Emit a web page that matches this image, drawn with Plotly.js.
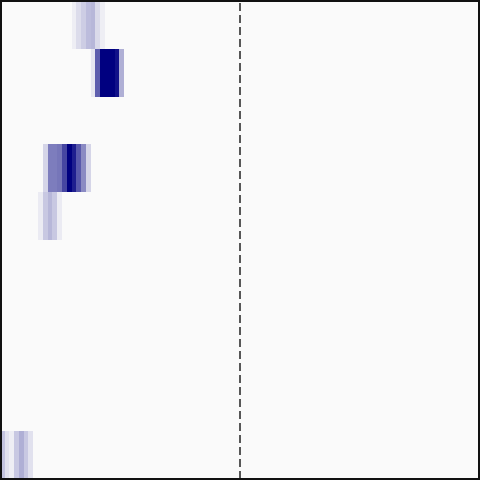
<!DOCTYPE html>
<html>
<head>
<meta charset="utf-8">
<script src="https://cdn.plot.ly/plotly-3.0.1.min.js"></script>
<style>html,body{margin:0;padding:0;background:#fff;}#chart{width:480px;height:480px;}</style>
</head>
<body>
<div id="chart"></div>
<script>
// 10 rows x 100 columns; only non-zero runs listed
var nRows = 10;
var nCols = 100;
var row0Start = 15, row0Values = [0.05, 0.12, 0.18, 0.25, 0.27, 0.13, 0.05];
var row1Start = 19, row1Values = [0.07, 0.62, 1.0, 1.0, 1.0, 0.93, 0.3];
var row3Start = 9,  row3Values = [0.15, 0.5, 0.5, 0.53, 0.72, 1.0, 0.88, 0.65, 0.45, 0.15];
var row4Start = 8,  row4Values = [0.06, 0.2, 0.27, 0.2, 0.06];
var row9Start = 0,  row9Values = [0.22, 0.1, 0.05, 0.2, 0.3, 0.2, 0.1];
var markerX = 50;

var runs = [[0,row0Start,row0Values],[1,row1Start,row1Values],[3,row3Start,row3Values],[4,row4Start,row4Values],[9,row9Start,row9Values]];
var z = [];
for (var r = 0; r < nRows; r++) { var row = []; for (var c = 0; c < nCols; c++) row.push(0); z.push(row); }
runs.forEach(function(run){ run[2].forEach(function(v,i){ z[run[0]][run[1]+i] = v; }); });

var trace = {
  type: 'heatmap',
  z: z,
  x0: 0.25, dx: 1,
  y0: 0, dy: 1,
  zmin: 0, zmax: 1,
  colorscale: [[0,'#fafafa'],[1,'#000080']],
  showscale: false,
  hoverinfo: 'skip'
};
var layout = {
  width: 480, height: 480,
  margin: {l:1, r:1, t:1, b:1},
  paper_bgcolor: '#ffffff',
  plot_bgcolor: '#fafafa',
  xaxis: {range:[0, nCols], showgrid:false, zeroline:false, showticklabels:false, ticks:'', showline:false},
  yaxis: {range:[nRows-0.5, -0.5], showgrid:false, zeroline:false, showticklabels:false, ticks:'', showline:false},
  shapes: [
    {type:'line', xref:'x', yref:'paper', x0:markerX, x1:markerX, y0:0, y1:1, line:{color:'#222', width:1.5, dash:'8px,4px'}},
    {type:'rect', xref:'paper', yref:'paper', x0:0, x1:1, y0:0, y1:1, line:{color:'#111', width:2}}
  ],
  showlegend: false
};
Plotly.newPlot('chart', [trace], layout, {staticPlot:true, displayModeBar:false});
</script>
</body>
</html>
